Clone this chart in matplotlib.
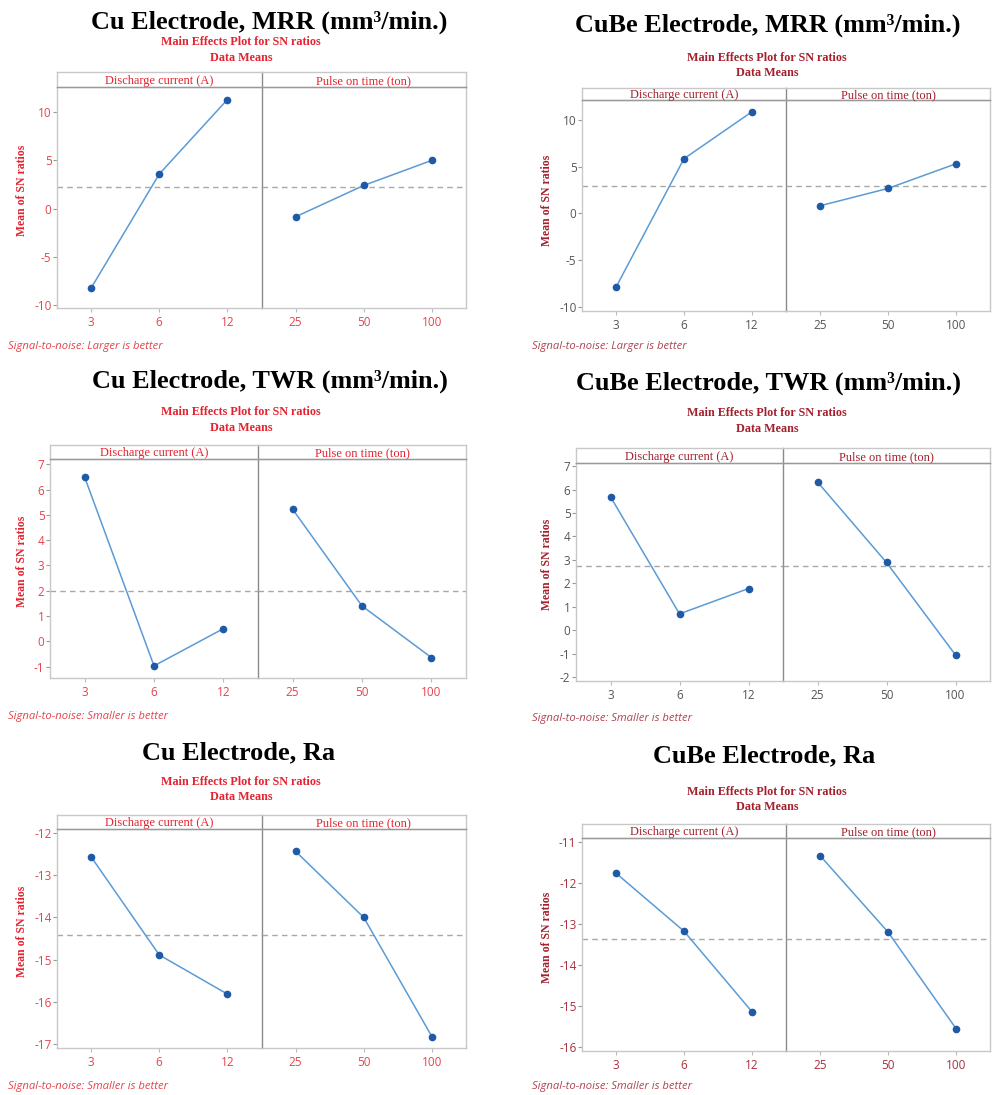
import numpy as np
import matplotlib
matplotlib.use("Agg")
import matplotlib.pyplot as plt

plt.rcParams["axes.unicode_minus"] = False

# Faktorstufen
levels_current = ["3", "6", "12"]
levels_pulse = ["25", "50", "100"]

# Mittelwerte der SN-Verhältnisse
cu_mrr_current = [-8.24, 3.58, 11.3]
cu_mrr_pulse = [-0.85, 2.4, 5.0]
cube_mrr_current = [-7.86, 5.84, 10.85]
cube_mrr_pulse = [0.82, 2.67, 5.3]
cu_twr_current = [6.49, -0.97, 0.5]
cu_twr_pulse = [5.22, 1.4, -0.64]
cube_twr_current = [5.69, 0.70, 1.78]
cube_twr_pulse = [6.32, 2.89, -1.05]
cu_ra_current = [-12.56, -14.89, -15.82]
cu_ra_pulse = [-12.43, -14.0, -16.83]
cube_ra_current = [-11.75, -13.17, -15.14]
cube_ra_pulse = [-11.32, -13.19, -15.55]

titles = ["Cu Electrode, MRR (mm³/min.)", "CuBe Electrode, MRR (mm³/min.)",
          "Cu Electrode, TWR (mm³/min.)", "CuBe Electrode, TWR (mm³/min.)",
          "Cu Electrode, Ra", "CuBe Electrode, Ra"]
footers = ["Signal-to-noise: Larger is better", "Signal-to-noise: Larger is better",
           "Signal-to-noise: Smaller is better", "Signal-to-noise: Smaller is better",
           "Signal-to-noise: Smaller is better", "Signal-to-noise: Smaller is better"]

W, H = 992, 1095
fig = plt.figure(figsize=(W / 100, H / 100), dpi=100)

def fx(x):
    return x / W

def fy(y):
    return 1 - y / H

def rect(l, t, r, b):
    return [l / W, 1 - b / H, (r - l) / W, (b - t) / H]

SERIF = "Liberation Serif"
SANS = "Open Sans"
LINE = "#5b9bd5"
MARK = "#1f5aa8"
FRAME = "#c8c8c8"
DIV = "#8a8a8a"

RED = dict(sub="#e3232f", tick="#e8424c", foot="#e8424c")
DARK = dict(sub="#a3202c", tick="#555555", foot="#b04452")
DARK_RA = dict(sub="#a3202c", tick="#a8303c", foot="#b04452")

# Layout je Panel: Rahmen, y-Bereich, Texte (Pixel)
panels = [
    dict(cur=cu_mrr_current, pul=cu_mrr_pulse, box=(57, 72, 87, 308, 466), ylim=(-10.3, 12.6),
         yt=[-10, -5, 0, 5, 10], tx=269, ty=22, sx=241, sy=(42, 58), lx=22, ly=190, foot=(8, 346), col=RED),
    dict(cur=cube_mrr_current, pul=cube_mrr_pulse, box=(582, 88, 100, 311, 990), ylim=(-10.4, 12.1),
         yt=[-10, -5, 0, 5, 10], tx=768, ty=25, sx=767, sy=(58, 73), lx=547, ly=200, foot=(532, 347), col=DARK),
    dict(cur=cu_twr_current, pul=cu_twr_pulse, box=(50, 445, 459, 678, 466), ylim=(-1.45, 7.21),
         yt=list(range(-1, 8)), tx=270, ty=381, sx=241, sy=(412, 428), lx=22, ly=561, foot=(8, 716), col=RED),
    dict(cur=cube_twr_current, pul=cube_twr_pulse, box=(576, 448, 463, 681, 990), ylim=(-2.16, 7.13),
         yt=list(range(-2, 8)), tx=768, ty=383, sx=767, sy=(413, 429), lx=547, ly=564, foot=(532, 718), col=DARK),
    dict(cur=cu_ra_current, pul=cu_ra_pulse, box=(57, 815, 829, 1048, 466), ylim=(-17.1, -11.9),
         yt=list(range(-17, -11)), tx=239, ty=753, sx=241, sy=(782, 797), lx=22, ly=931, foot=(8, 1087), col=RED),
    dict(cur=cube_ra_current, pul=cube_ra_pulse, box=(582, 824, 838, 1051, 990), ylim=(-16.1, -10.89),
         yt=list(range(-16, -10)), tx=764, ty=756, sx=767, sy=(792, 807), lx=547, ly=937, foot=(532, 1087), col=DARK_RA),
]

for i, p in enumerate(panels):
    l, top, sb, b, r = p["box"]
    mid = (l + r) / 2
    col = p["col"]
    allvals = np.array(p["cur"] + p["pul"])
    grand = allvals.mean()

    for j, (vals, labs, name) in enumerate([(p["cur"], levels_current, "Discharge current (A)"),
                                            (p["pul"], levels_pulse, "Pulse on time (ton)")]):
        x0, x1 = (l, mid) if j == 0 else (mid, r)
        ax = fig.add_axes(rect(x0, sb, x1, b))
        ax.set_facecolor("none")
        xs = np.arange(1, 4)
        ax.axhline(grand, color="#a8a8a8", lw=1.0, ls=(0, (4, 3)), zorder=1)
        ax.plot(xs, vals, color=LINE, lw=1.1, zorder=2)
        ax.plot(xs, vals, "o", color=MARK, ms=4.5, zorder=3)
        ax.set_xlim(0.5, 3.5)
        ax.set_ylim(*p["ylim"])
        ax.set_xticks(xs)
        ax.set_xticklabels(labs, fontsize=8.5, color=col["tick"], family=SANS)
        ax.set_yticks(p["yt"])
        for s in ax.spines.values():
            s.set_color(FRAME)
            s.set_linewidth(1.0)
        if j == 0:
            ax.spines["right"].set_color(DIV)
            ax.spines["right"].set_zorder(5)
            ax.tick_params(axis="y", length=3, color="#999999", labelsize=8.5,
                           labelcolor=col["tick"], pad=1)
            for t in ax.get_yticklabels():
                t.set_family(SANS)
        else:
            ax.spines["left"].set_visible(False)
            ax.tick_params(axis="y", left=False, labelleft=False)
        ax.tick_params(axis="x", length=3, color="#bbbbbb", pad=3)

        # Streifen mit Faktorname
        sax = fig.add_axes(rect(x0, top, x1, sb))
        sax.set_facecolor("none")
        sax.set_xticks([])
        sax.set_yticks([])
        for s in sax.spines.values():
            s.set_color(FRAME)
            s.set_linewidth(1.0)
        sax.spines["bottom"].set_color("#999999")
        if j == 0:
            sax.spines["right"].set_color(DIV)
        else:
            sax.spines["left"].set_visible(False)
        sax.text(0.5, 0.4, name, ha="center", va="center", fontsize=8.9,
                 family=SERIF, color=col["sub"], transform=sax.transAxes)

    fig.text(fx(p["tx"]), fy(p["ty"]), titles[i], ha="center", va="center",
             fontsize=18.9, fontweight="bold", family=SERIF, color="black")
    fig.text(fx(p["sx"]), fy(p["sy"][0]), "Main Effects Plot for SN ratios", ha="center",
             va="center", fontsize=8.7, fontweight="bold", family=SERIF, color=col["sub"])
    fig.text(fx(p["sx"]), fy(p["sy"][1]), "Data Means", ha="center", va="center",
             fontsize=8.7, fontweight="bold", family=SERIF, color=col["sub"])
    fig.text(fx(p["lx"]), fy(p["ly"]), "Mean of SN ratios", ha="center", va="center",
             rotation=90, fontsize=8.5, fontweight="bold", family=SERIF, color=col["sub"])
    fig.text(fx(p["foot"][0]), fy(p["foot"][1]), footers[i], ha="left", va="center",
             fontsize=8.1, style="italic", family=SANS, color=col["foot"])

fig.savefig("out.png", dpi=100)
